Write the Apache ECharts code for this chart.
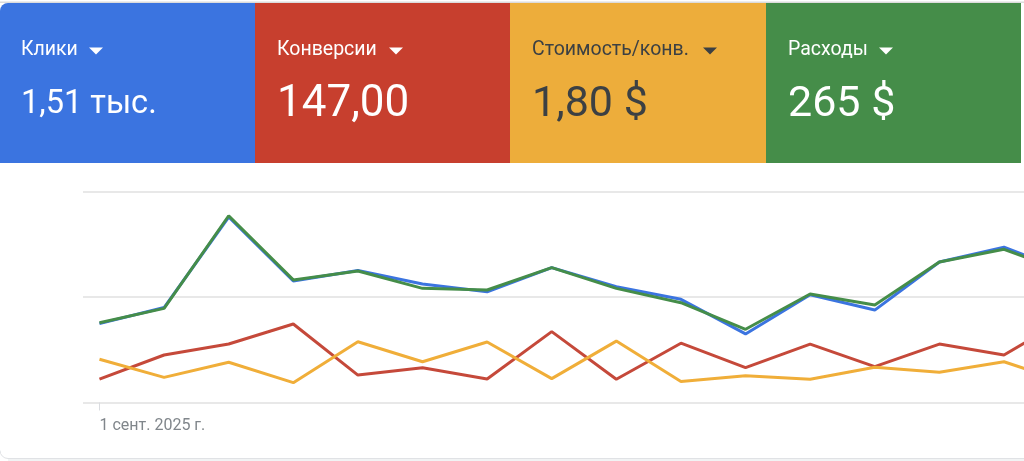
<!DOCTYPE html>
<html>
<head>
<meta charset="utf-8">
<script src="https://cdn.jsdelivr.net/npm/echarts@6/dist/echarts.min.js"></script>
<style>
  html, body { margin: 0; padding: 0; background: #fff; }
  #chart { width: 1024px; height: 461px; }
</style>
</head>
<body>
<div id="chart"></div>
<script>
// значения, шкала условная 0-100
const tickLabels = ["1 сент. 2025 г."];
const clicks = [37.4, 45.0, 87.9, 57.6, 62.6, 56.2, 52.5, 63.9, 54.9, 48.9, 32.5, 51.1, 43.8, 66.6, 73.6, 61.8];
const conversions = [11.1, 22.5, 27.7, 37.2, 13.0, 16.5, 11.1, 33.6, 11.0, 28.1, 16.5, 27.7, 17.0, 27.7, 22.5, 40.5];
const costPerConv = [20.5, 11.9, 19.1, 9.4, 28.8, 19.3, 28.7, 11.3, 29.1, 10.0, 12.7, 11.0, 16.7, 14.3, 19.3, 9.2];
const spend = [37.8, 44.6, 88.5, 58.1, 62.3, 54.1, 53.3, 63.9, 54.1, 47.3, 34.7, 51.4, 46.2, 66.6, 72.6, 61.4];

const tileNames = ["Клики", "Конверсии", "Стоимость/конв.", "Расходы"];
const tileValues = ["1,51 тыс.", "147,00", "1,80 $", "265 $"];
const tileColors = ["#3b74e0", "#c73f2e", "#edad3b", "#458d49"];
const tileText = ["#ffffff", "#ffffff", "#3c4043", "#ffffff"];
const tileLeft = [0, 255, 510, 766, 1021];
const arrowLeft = [89, 389, 703, 879];
const valueSize = [32.5, 44, 43, 43];

const toPoints = (arr) => arr.map((v, i) => [i, v]);
const lineSeries = (name, arr, color) => ({
  name,
  type: "line",
  data: toPoints(arr),
  symbol: "none",
  smooth: false,
  lineStyle: { color, width: 3 },
  silent: true,
  animation: false,
});

// плитки сверху
const tiles = [];
tileNames.forEach((name, i) => {
  const x = tileLeft[i];
  const w = tileLeft[i + 1] - x;
  const textX = x + (i === 0 ? 21 : 22);
  tiles.push({
    type: "rect",
    shape: { x, y: 3, width: w, height: 160, r: i === 0 ? [8, 0, 0, 0] : 0 },
    style: { fill: tileColors[i] },
  });
  tiles.push({
    type: "text",
    x: textX,
    y: 50,
    style: {
      text: name,
      fill: tileText[i],
      font: "19.5px Roboto",
      verticalAlign: "middle",
    },
  });
  tiles.push({
    type: "polygon",
    shape: { points: [[arrowLeft[i], 47.5], [arrowLeft[i] + 14, 47.5], [arrowLeft[i] + 7, 54.5]] },
    style: { fill: tileText[i] },
  });
  tiles.push({
    type: "text",
    x: textX,
    y: 105,
    style: {
      text: tileValues[i],
      fill: tileText[i],
      font: valueSize[i] + "px Roboto",
      verticalAlign: "middle",
    },
  });
});

const option = {
  animation: false,
  backgroundColor: "#ffffff",
  grid: { left: 83, right: 0, top: 191.5, bottom: 58.5 },
  xAxis: {
    type: "value",
    min: -0.255,
    max: 14.31,
    splitLine: { show: false },
    axisLine: { show: false },
    axisTick: {
      show: true,
      customValues: [0],
      length: 8,
      lineStyle: { color: "#dadce0", width: 1 },
    },
    axisLabel: {
      show: true,
      customValues: [0],
      formatter: () => tickLabels[0],
      color: "#80868b",
      fontFamily: "Roboto",
      fontSize: 16,
      align: "left",
      margin: 15,
    },
  },
  yAxis: {
    type: "value",
    min: 0,
    max: 100,
    interval: 50,
    axisLabel: { show: false },
    axisLine: { show: false },
    axisTick: { show: false },
    splitLine: { show: true, lineStyle: { color: "#e0e0e0", width: 1.5 } },
  },
  series: [
    lineSeries("Клики", clicks, "#3b74e0"),
    lineSeries("Конверсии", conversions, "#c5493a"),
    lineSeries("Стоимость/конв.", costPerConv, "#f0ae39"),
    lineSeries("Расходы", spend, "#458d49"),
  ],
  graphic: { elements: [
    { type: "rect", shape: { x: 0, y: 1.5, width: 1024, height: 1.5 }, style: { fill: "#dcdcdc" } },
    ...tiles,
    // низ карточки со скруглением
    { type: "arc", shape: { cx: 8, cy: 450.5, r: 8, startAngle: Math.PI / 2, endAngle: Math.PI, clockwise: true }, style: { stroke: "#e0e2e5", fill: null, lineWidth: 1 } },
    { type: "rect", shape: { x: 8, y: 458, width: 1016, height: 1 }, style: { fill: "#e0e2e5" } },
    { type: "rect", shape: { x: 8, y: 459, width: 1016, height: 2 }, style: { fill: "#f1f3f4" } },
  ] },
};

const myChart = echarts.init(document.getElementById("chart"));
myChart.setOption(option);
</script>
</body>
</html>
